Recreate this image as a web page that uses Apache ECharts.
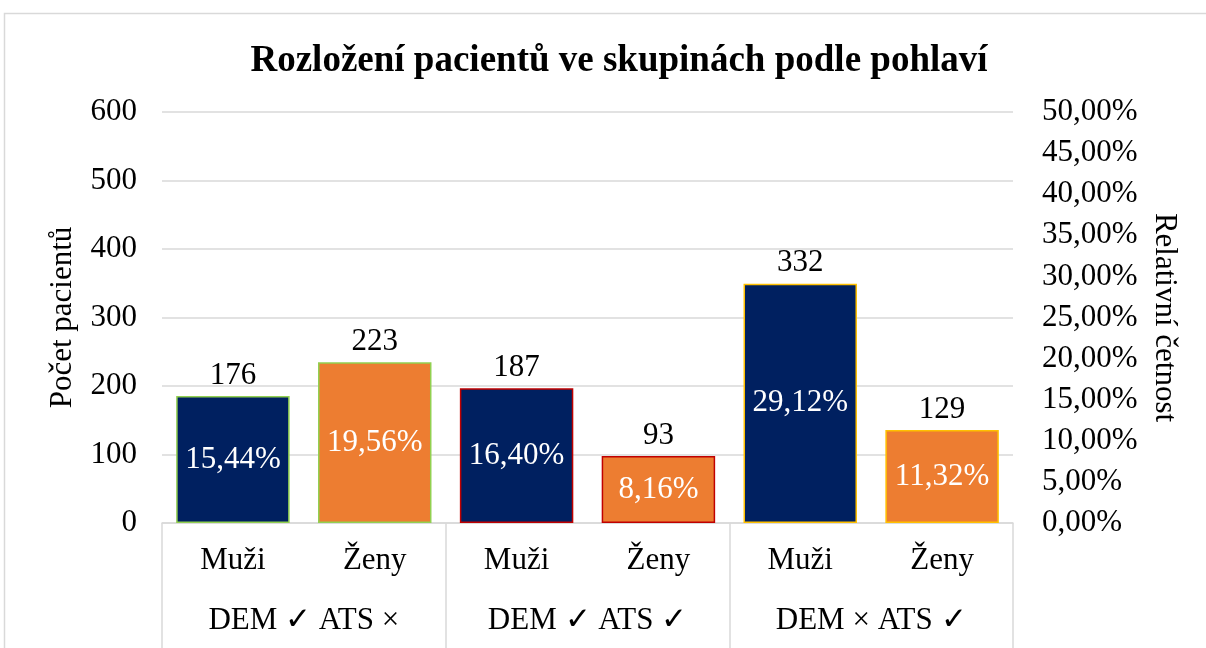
<!DOCTYPE html>
<html>
<head>
    <meta charset="utf-8">
    <title>Rozložení pacientů ve skupinách podle pohlaví</title>
    <script src="https://cdn.jsdelivr.net/npm/echarts@6/dist/echarts.min.js"></script>
    <style type="text/css">
        html, body {
            margin: 0;
            padding: 0;
            background: #ffffff;
        }
        #chart {
            width: 1206px;
            height: 648px;
        }
    </style>
</head>
<body>
<div id="chart"></div>
<script>
    // data
    var categories = ['Muži', 'Ženy', 'Muži', 'Ženy', 'Muži', 'Ženy'];
    var groups = ['DEM ✓ ATS ×', 'DEM ✓ ATS ✓', 'DEM × ATS ✓'];
    var counts = [176, 223, 187, 93, 332, 129];
    var percents = [15.44, 19.56, 16.40, 8.16, 29.12, 11.32];
    var leftTicks = [0, 600, 100];     // min, max, interval
    var rightTicks = [0, 50, 5];

    var fillColors = ['#002060', '#ED7D31'];
    var groupBorders = ['#92D050', '#C00000', '#FFC000'];
    var font = 'Liberation Serif';
    var fs = 31;
    var gray = '#D9D9D9';

    function pct(v) {
        return v.toFixed(2).replace('.', ',') + '%';
    }

    var barData = percents.map(function (v, i) {
        return {
            value: v,
            itemStyle: {
                color: fillColors[i % 2],
                borderColor: groupBorders[Math.floor(i / 2)],
                borderWidth: 1.5
            }
        };
    });

    var chart = echarts.init(document.getElementById('chart'));
    var option = {
        backgroundColor: '#ffffff',
        animation: false,
        title: {
            text: 'Rozložení pacientů ve skupinách podle pohlaví',
            left: 614,
            textAlign: 'center',
            top: 38,
            textStyle: {
                fontFamily: font,
                fontWeight: 'bold',
                fontSize: 37,
                color: '#000'
            }
        },
        graphic: [{
            type: 'rect',
            shape: {x: 4.5, y: 13.5, width: 1300, height: 800},
            style: {fill: 'none', stroke: gray, lineWidth: 1.5},
            silent: true
        }],
        grid: {
            left: 162,
            right: 193,
            top: 112,
            bottom: 125
        },
        xAxis: [{
            type: 'category',
            data: categories,
            axisLine: {lineStyle: {color: gray, width: 1.5}},
            axisTick: {show: false},
            axisLabel: {
                fontFamily: font,
                fontSize: fs,
                color: '#000',
                margin: 22
            }
        }, {
            type: 'category',
            data: groups,
            position: 'bottom',
            offset: 0,
            axisLine: {show: false},
            axisTick: {
                show: true,
                length: 130,
                lineStyle: {color: gray, width: 1.5}
            },
            axisLabel: {
                fontFamily: font,
                fontSize: fs,
                color: '#000',
                margin: 82
            }
        }],
        yAxis: [{
            type: 'value',
            min: leftTicks[0],
            max: leftTicks[1],
            interval: leftTicks[2],
            name: 'Počet pacientů',
            nameLocation: 'middle',
            nameRotate: 90,
            nameGap: 84,
            nameTextStyle: {fontFamily: font, fontSize: fs, color: '#000'},
            axisLine: {show: false},
            axisTick: {show: false},
            axisLabel: {fontFamily: font, fontSize: fs, color: '#000', margin: 25},
            splitLine: {lineStyle: {color: gray, width: 1.5}}
        }, {
            type: 'value',
            position: 'right',
            min: rightTicks[0],
            max: rightTicks[1],
            interval: rightTicks[2],
            name: 'Relativní četnost',
            nameLocation: 'middle',
            nameRotate: -90,
            nameGap: 134,
            nameTextStyle: {fontFamily: font, fontSize: fs, color: '#000'},
            axisLine: {show: false},
            axisTick: {show: false},
            axisLabel: {
                fontFamily: font,
                fontSize: fs,
                color: '#000',
                margin: 29,
                formatter: pct
            },
            splitLine: {show: false}
        }],
        series: [{
            type: 'bar',
            xAxisIndex: 0,
            yAxisIndex: 1,
            barWidth: '80%',
            data: barData,
            label: {
                show: true,
                position: 'inside',
                fontFamily: font,
                fontSize: fs,
                color: '#fff',
                formatter: function (p) { return pct(p.value); }
            }
        }, {
            // transparent twin bars carry the count labels on top
            type: 'bar',
            xAxisIndex: 0,
            yAxisIndex: 1,
            barWidth: '80%',
            barGap: '-100%',
            silent: true,
            data: percents,
            itemStyle: {color: 'rgba(0,0,0,0)'},
            label: {
                show: true,
                position: 'top',
                distance: 5,
                fontFamily: font,
                fontSize: fs,
                color: '#000',
                formatter: function (p) { return counts[p.dataIndex]; }
            }
        }]
    };
    chart.setOption(option);
</script>
</body>
</html>
